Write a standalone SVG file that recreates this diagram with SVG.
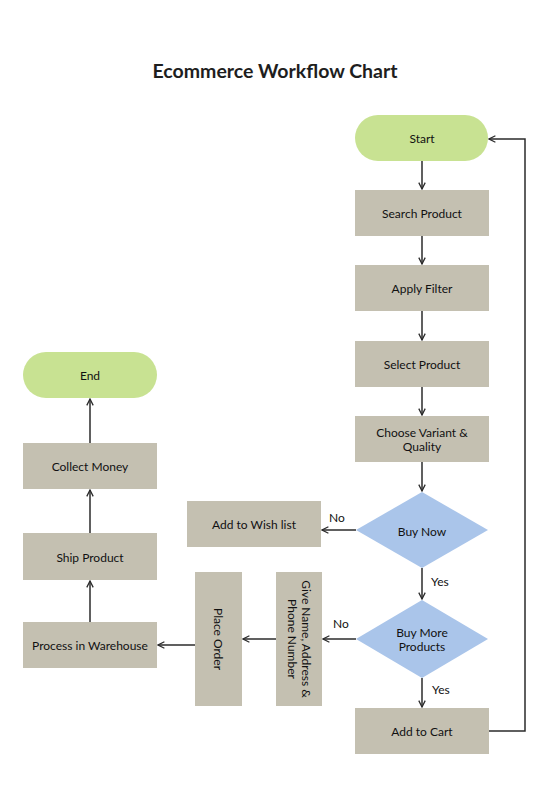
<svg xmlns="http://www.w3.org/2000/svg" width="552" height="809" viewBox="0 0 552 809">
<defs>
<marker id="arr" viewBox="0 0 10 10" refX="9" refY="5" markerWidth="8" markerHeight="8" markerUnits="userSpaceOnUse" orient="auto">
<polyline points="1,1 9,5 1,9" fill="none" stroke="#2b2b2b" stroke-width="1.6"/>
</marker>
</defs>
<style>
.box{fill:#c4c0b1;}
.term{fill:#c8e292;}
.dec{fill:#aac5ea;}
.t{font-family:Lato,"Liberation Sans",sans-serif;font-size:12px;fill:#111111;text-anchor:middle;dominant-baseline:central;}
.lbl{font-family:Lato,"Liberation Sans",sans-serif;font-size:12px;fill:#111111;}
.c{fill:none;stroke:#2b2b2b;stroke-width:1.5;}
</style>
<rect width="552" height="809" fill="#ffffff"/>
<text x="275" y="70" font-family="Lato,'Liberation Sans',sans-serif" font-size="19.5" font-weight="bold" fill="#1e1e1e" text-anchor="middle" dominant-baseline="central">Ecommerce Workflow Chart</text>

<g id="start"><rect class="term" x="355" y="115" width="133" height="46" rx="23"/><text class="t" x="422" y="138">Start</text></g>
<g id="search"><rect class="box" x="355" y="190" width="134" height="46"/><text class="t" x="422" y="213">Search Product</text></g>
<g id="filter"><rect class="box" x="355" y="265" width="134" height="46"/><text class="t" x="422" y="288">Apply Filter</text></g>
<g id="select"><rect class="box" x="355" y="341" width="134" height="46"/><text class="t" x="422" y="364">Select Product</text></g>
<g id="variant"><rect class="box" x="355" y="416" width="134" height="46"/><text class="t" x="422" y="432">Choose Variant &amp;</text><text class="t" x="422" y="446">Quality</text></g>
<g id="buynow"><polygon class="dec" points="422,492 488,530 422,568 356,530"/><text class="t" x="422" y="531">Buy Now</text></g>
<g id="buymore"><polygon class="dec" points="422,600 488,639 422,678 356,639"/><text class="t" x="422" y="632">Buy More</text><text class="t" x="422" y="646">Products</text></g>
<g id="cart"><rect class="box" x="355" y="708" width="134" height="46"/><text class="t" x="422" y="731">Add to Cart</text></g>
<g id="wish"><rect class="box" x="187" y="501" width="134" height="46"/><text class="t" x="254" y="524">Add to Wish list</text></g>
<g id="give"><rect class="box" x="276" y="572" width="46" height="134"/><g transform="translate(299,639) rotate(90)"><text class="t" x="0" y="-7">Give Name, Address &amp;</text><text class="t" x="0" y="7">Phone Number</text></g></g>
<g id="place"><rect class="box" x="195" y="572" width="47" height="134"/><text class="t" transform="translate(218,639) rotate(90)" x="0" y="0">Place Order</text></g>
<g id="warehouse"><rect class="box" x="23" y="622" width="134" height="46"/><text class="t" x="90" y="645">Process in Warehouse</text></g>
<g id="ship"><rect class="box" x="23" y="533" width="134" height="47"/><text class="t" x="90" y="557">Ship Product</text></g>
<g id="collect"><rect class="box" x="23" y="443" width="134" height="46"/><text class="t" x="90" y="466">Collect Money</text></g>
<g id="end"><rect class="term" x="23" y="352" width="134" height="46" rx="23"/><text class="t" x="90" y="375">End</text></g>

<g id="connectors">
<line class="c" x1="422" y1="161" x2="422" y2="189" marker-end="url(#arr)"/>
<line class="c" x1="422" y1="236" x2="422" y2="264" marker-end="url(#arr)"/>
<line class="c" x1="422" y1="311" x2="422" y2="340" marker-end="url(#arr)"/>
<line class="c" x1="422" y1="387" x2="422" y2="415" marker-end="url(#arr)"/>
<line class="c" x1="422" y1="462" x2="422" y2="491" marker-end="url(#arr)"/>
<line class="c" x1="422" y1="568" x2="422" y2="599" marker-end="url(#arr)"/>
<line class="c" x1="422" y1="678" x2="422" y2="707" marker-end="url(#arr)"/>
<line class="c" x1="356" y1="530" x2="322" y2="530" marker-end="url(#arr)"/>
<line class="c" x1="356" y1="639" x2="323" y2="639" marker-end="url(#arr)"/>
<line class="c" x1="276" y1="639" x2="243" y2="639" marker-end="url(#arr)"/>
<line class="c" x1="195" y1="645" x2="158" y2="645" marker-end="url(#arr)"/>
<line class="c" x1="90" y1="622" x2="90" y2="581" marker-end="url(#arr)"/>
<line class="c" x1="90" y1="533" x2="90" y2="490" marker-end="url(#arr)"/>
<line class="c" x1="90" y1="443" x2="90" y2="399" marker-end="url(#arr)"/>
<polyline class="c" points="489,731 525,731 525,139 489,139" marker-end="url(#arr)"/>
<text class="lbl" x="329" y="522">No</text>
<text class="lbl" x="333" y="628">No</text>
<text class="lbl" x="431" y="586">Yes</text>
<text class="lbl" x="432" y="694">Yes</text>
</g>
</svg>
